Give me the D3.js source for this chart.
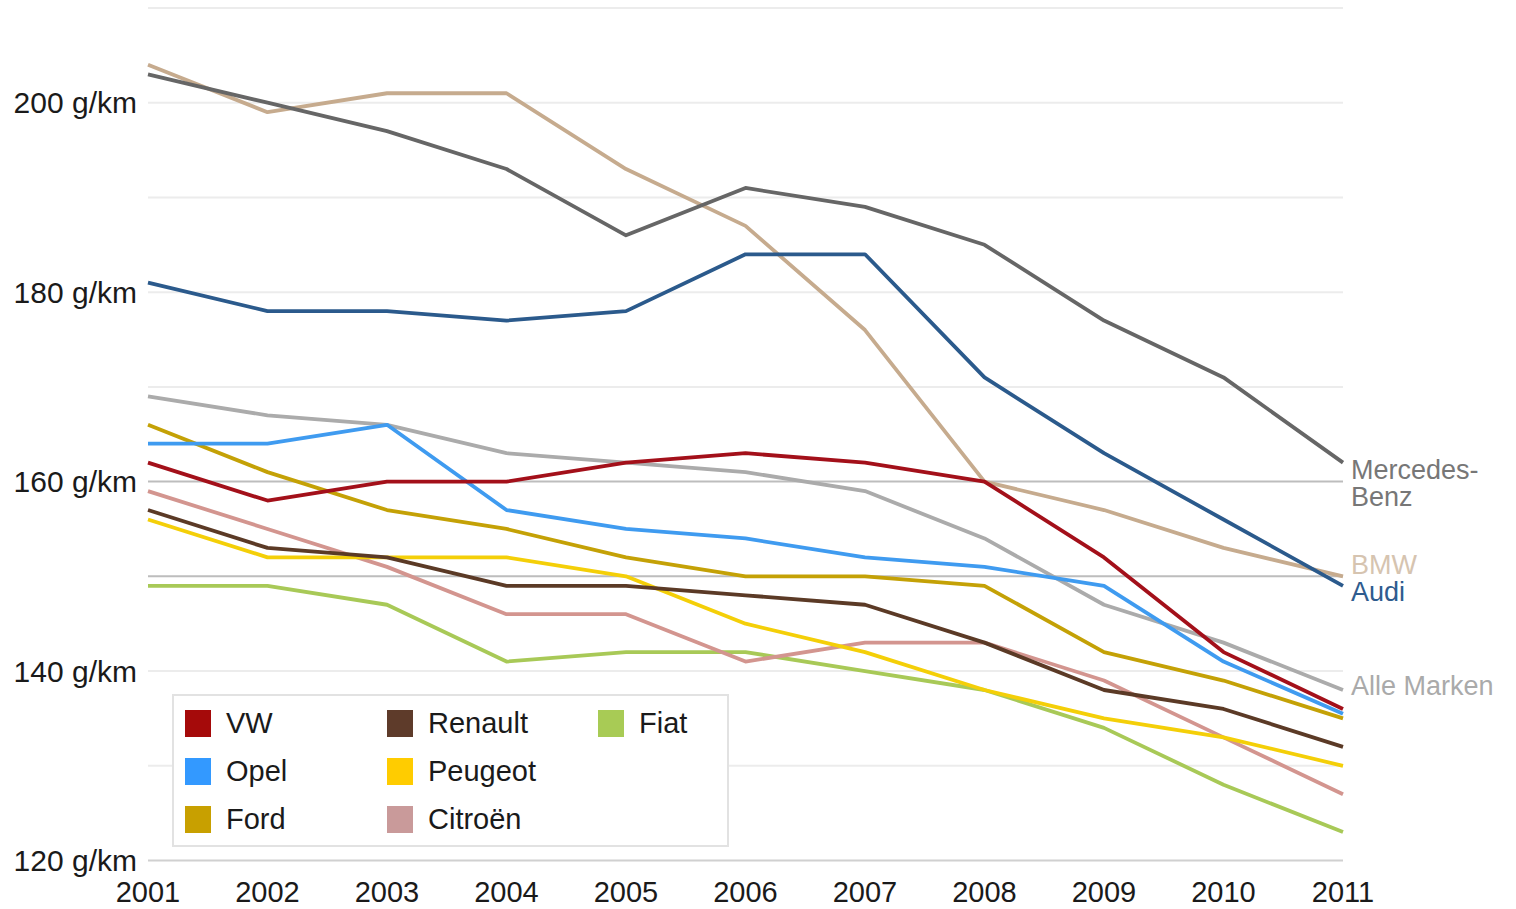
<!DOCTYPE html>
<html>
<head>
<meta charset="utf-8">
<script src="https://cdn.jsdelivr.net/npm/d3@7"></script>
<style>
  body { margin: 0; background: #fff; }
  text { font-family: 'Liberation Sans', Arial, sans-serif; }
</style>
</head>
<body>
<div id="chart"></div>
<script>
const years = [2001, 2002, 2003, 2004, 2005, 2006, 2007, 2008, 2009, 2010, 2011]

// g/km per brand
const mercedes = [203, 200, 197, 193, 186, 191, 189, 185, 177, 171, 162]
const bmw = [204, 199, 201, 201, 193, 187, 176, 160, 157, 153, 150]
const audi = [181, 178, 178, 177, 178, 184, 184, 171, 163, 156, 149]
const alleMarken = [169, 167, 166, 163, 162, 161, 159, 154, 147, 143, 138]
const vw = [162, 158, 160, 160, 162, 163, 162, 160, 152, 142, 136]
const opel = [164, 164, 166, 157, 155, 154, 152, 151, 149, 141, 135.5]
const ford = [166, 161, 157, 155, 152, 150, 150, 149, 142, 139, 135]
const renault = [157, 153, 152, 149, 149, 148, 147, 143, 138, 136, 132]
const peugeot = [156, 152, 152, 152, 150, 145, 142, 138, 135, 133, 130]
const citroen = [159, 155, 151, 146, 146, 141, 143, 143, 139, 133, 127]
const fiat = [149, 149, 147, 141, 142, 142, 140, 138, 134, 128, 123]

const yTicks = [120, 140, 160, 180, 200]
const gridValues = [120, 130, 140, 150, 160, 170, 180, 190, 200, 210]

const series = [
  { name: 'Alle Marken', values: alleMarken, color: '#ababab' },
  { name: 'BMW', values: bmw, color: '#c6ab8e' },
  { name: 'Mercedes-Benz', values: mercedes, color: '#666666' },
  { name: 'Audi', values: audi, color: '#2b5a8c' },
  { name: 'Fiat', values: fiat, color: '#a8c957' },
  { name: 'Citroën', values: citroen, color: '#d3958f' },
  { name: 'Peugeot', values: peugeot, color: '#f4cf08' },
  { name: 'Renault', values: renault, color: '#5b3a26' },
  { name: 'Ford', values: ford, color: '#c4a106' },
  { name: 'Opel', values: opel, color: '#3f9bf0' },
  { name: 'VW', values: vw, color: '#a3101a' }
]

const legendOrder = [
  ['VW', '#a50a0a'], ['Opel', '#3399ff'], ['Ford', '#c8a000'],
  ['Renault', '#5e3b2a'], ['Peugeot', '#ffcc00'], ['Citroën', '#c99a9a'],
  ['Fiat', '#a8cb55']
]

const endLabels = [
  { lines: ['Mercedes-', 'Benz'], color: '#777777', y: 479 },
  { lines: ['BMW'], color: '#d6c4b0', y: 574 },
  { lines: ['Audi'], color: '#2f5c8f', y: 601 },
  { lines: ['Alle Marken'], color: '#aaaaaa', y: 695 }
]

const width = 1516
const height = 909

const svg = d3.select('#chart')
  .append('svg')
  .attr('width', width)
  .attr('height', height)

const x = d3.scaleLinear().domain([2001, 2011]).range([148, 1343])
const y = d3.scaleLinear().domain([120, 210]).range([860.5, 8])

// grid
svg.append('g')
  .selectAll('line')
  .data(gridValues)
  .enter()
  .append('line')
  .attr('x1', x(2001))
  .attr('x2', x(2011))
  .attr('y1', d => y(d))
  .attr('y2', d => y(d))
  .attr('stroke', d => (d === 150 || d === 160) ? '#bdbdbd' : (d === 120 ? '#d0d0d0' : '#ececec'))
  .attr('stroke-width', 2)

// y labels
svg.append('g')
  .selectAll('text')
  .data(yTicks)
  .enter()
  .append('text')
  .attr('x', 137)
  .attr('y', d => y(d))
  .attr('dy', '0.35em')
  .attr('text-anchor', 'end')
  .attr('font-size', 30)
  .attr('fill', '#1a1a1a')
  .text(d => d + ' g/km')

// x labels
svg.append('g')
  .selectAll('text')
  .data(years)
  .enter()
  .append('text')
  .attr('x', d => x(d))
  .attr('y', 902)
  .attr('text-anchor', 'middle')
  .attr('font-size', 29)
  .attr('fill', '#1a1a1a')
  .text(d => d)

// lines
const line = d3.line()
  .x((d, i) => x(years[i]))
  .y(d => y(d))

svg.append('g')
  .selectAll('path')
  .data(series)
  .enter()
  .append('path')
  .attr('d', d => line(d.values))
  .attr('fill', 'none')
  .attr('stroke', d => d.color)
  .attr('stroke-width', 3.8)
  .attr('stroke-linejoin', 'round')

// labels at right end
const ends = svg.append('g')
endLabels.forEach(lab => {
  const t = ends.append('text')
    .attr('x', 1351)
    .attr('y', lab.y)
    .attr('font-size', 27)
    .attr('fill', lab.color)
  lab.lines.forEach((s, i) => {
    t.append('tspan')
      .attr('x', 1351)
      .attr('dy', i === 0 ? 0 : 27)
      .text(s)
  })
})

// legend
const legend = svg.append('g')
legend.append('rect')
  .attr('x', 173)
  .attr('y', 695)
  .attr('width', 555)
  .attr('height', 151)
  .attr('fill', '#fff')
  .attr('stroke', '#e2e2e2')
  .attr('stroke-width', 2)

const colX = [185, 387, 598]
const rowY = [723, 771, 819]

const items = legend.selectAll('g.item')
  .data(legendOrder)
  .enter()
  .append('g')
  .attr('class', 'item')
  .attr('transform', (d, i) => 'translate(' + colX[Math.floor(i / 3)] + ',' + rowY[i % 3] + ')')

items.append('rect')
  .attr('x', 0)
  .attr('y', -13)
  .attr('width', 26)
  .attr('height', 27)
  .attr('fill', d => d[1])

items.append('text')
  .attr('x', 41)
  .attr('y', 0)
  .attr('dy', '0.35em')
  .attr('font-size', 29)
  .attr('fill', '#1a1a1a')
  .text(d => d[0])
</script>
</body>
</html>
